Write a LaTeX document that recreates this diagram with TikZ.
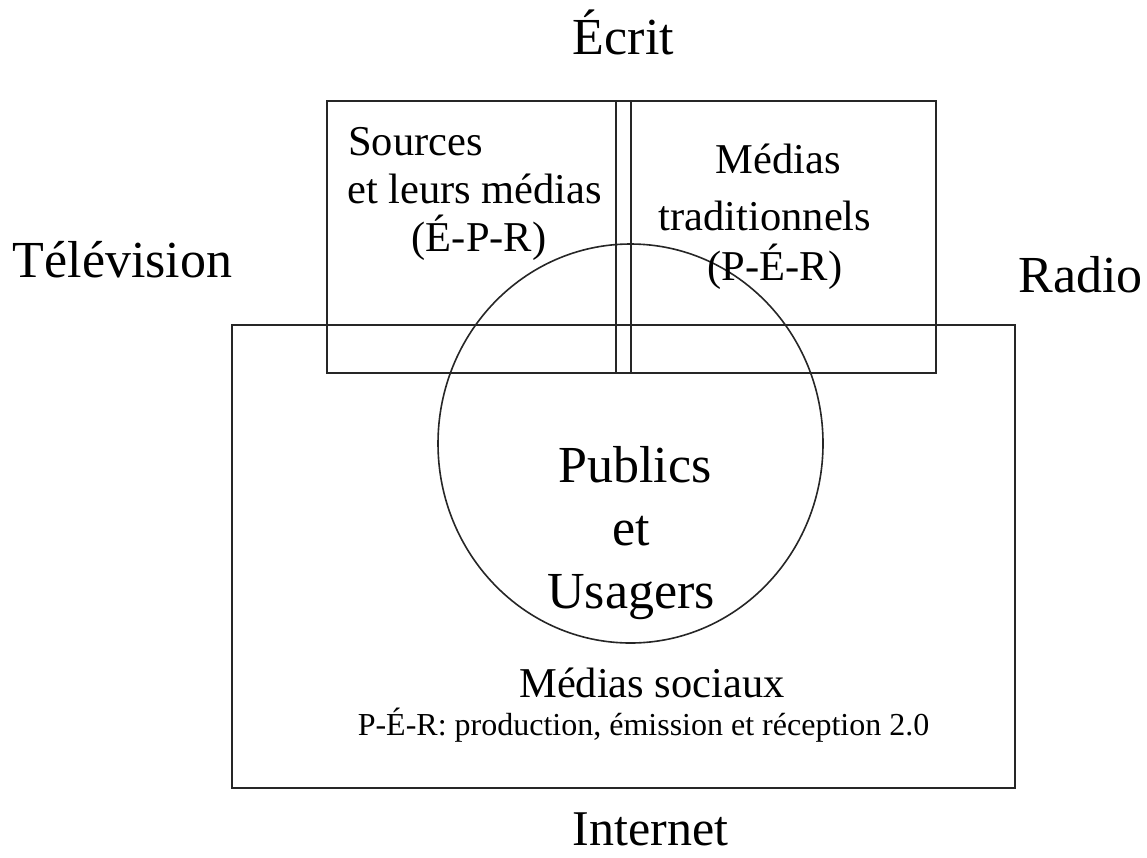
\documentclass[tikz,border=0pt]{standalone}
\usepackage{fontspec}
\setmainfont{Liberation Serif}
\usetikzlibrary{shapes.geometric}
\begin{document}
\begin{tikzpicture}[x=1pt,y=-1pt,
  box/.style={draw=black!85, line width=1.6pt, inner sep=0pt, outer sep=0pt},
  big/.style={font=\fontsize{52}{60}\selectfont, inner sep=0pt, anchor=base},
  mid/.style={font=\fontsize{42.5}{49}\selectfont, inner sep=0pt, anchor=base},
  small/.style={font=\fontsize{32}{38}\selectfont, inner sep=0pt, anchor=base}]
\useasboundingbox (0,0) rectangle (1147,857);
% shapes
\node[box, minimum width=783pt, minimum height=463pt] (internetbox) at (623.5,556.5) {};
\node[box, minimum width=609pt, minimum height=272pt] (topbox) at (631.5,237) {};
\node[box, minimum width=15pt, minimum height=272pt] (divider) at (623.5,237) {};
\node[box, ellipse, minimum width=385pt, minimum height=399pt] (publicscircle) at (630.5,443.5) {};
% outer labels
\node[big] (ecrit) at (623.5,54) {Écrit};
\node[big] (television) at (122.5,277) {Télévision};
\node[big] (radio) at (1080.5,292) {Radio};
\node[big, font=\fontsize{50}{58}\selectfont, text depth=0pt] (internet) at (650.5,845) {Internet};
% top left box
\node[mid, anchor=base west] (sources) at (348,155) {Sources};
\node[mid, anchor=base west] (leurs) at (347,203) {et leurs médias};
\node[mid] (epr) at (479,251) {(É-P-R)};
% top right box
\node[mid] (medias) at (778,173) {Médias};
\node[mid] (trad) at (765,230) {traditionnels};
\node[mid] (per) at (775,280) {(P-É-R)};
% circle
\node[big] (publics) at (635,482) {Publics};
\node[big] (et) at (631,545) {et};
\node[big] (usagers) at (631,608) {Usagers};
% bottom
\node[mid] (sociaux) at (652,697) {Médias sociaux};
\node[small] (per2) at (643.5,735) {P-É-R: production, émission et réception 2.0};
\end{tikzpicture}
\end{document}
